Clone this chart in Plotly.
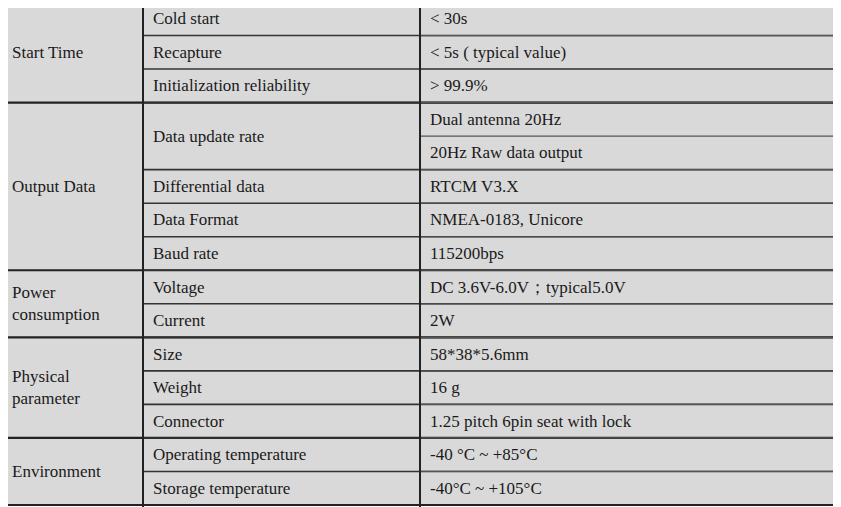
import plotly.graph_objects as go

groups = ["Start Time", "Output Data", "Power<br>consumption", "Physical<br>parameter", "Environment"]
group_spans = [3, 5, 2, 3, 2]  # in value rows
params = ["Cold start", "Recapture", "Initialization reliability", "Data update rate",
          "Differential data", "Data Format", "Baud rate", "Voltage", "Current",
          "Size", "Weight", "Connector", "Operating temperature", "Storage temperature"]
param_spans = [1, 1, 1, 2, 1, 1, 1, 1, 1, 1, 1, 1, 1, 1]
values = ["< 30s", "< 5s ( typical value)", "> 99.9%", "Dual antenna 20Hz",
          "20Hz Raw data output", "RTCM V3.X", "NMEA-0183, Unicore", "115200bps",
          "DC 3.6V-6.0V\uff1btypical5.0V", "2W", "58*38*5.6mm", "16 g",
          "1.25 pitch 6pin seat with lock", "-40 °C ~ +85°C", "-40°C ~ +105°C"]

X0, X1, X2, X3 = 2, 143, 420, 838
N = len(values)
font = dict(family="Liberation Serif", size=17, color="#1a1a1a")
shapes, ann = [], []
shapes.append(dict(type="rect", x0=X0, x1=X3, y0=0, y1=N, fillcolor="#d9d9d9", line_width=0, layer="below"))

def hline(y, xa, xb, w, c):
    shapes.append(dict(type="line", x0=xa, x1=xb, y0=y, y1=y, line=dict(color=c, width=w)))

r = 0
for g, s in zip(groups, group_spans):
    ann.append(dict(x=X0 + 8, y=r + s / 2, text=g, xanchor="left", yanchor="middle", showarrow=False, font=font, align="left"))
    hline(r, X0, X3, 2.2, "#222")
    r += s
hline(N, X0, X3, 2.2, "#222")

r = 0
for p, s in zip(params, param_spans):
    ann.append(dict(x=X1 + 8, y=r + s / 2, text=p, xanchor="left", yanchor="middle", showarrow=False, font=font))
    if r != 0:
        hline(r, X1, X3, 1.6, "#333")
    r += s

for i, v in enumerate(values):
    ann.append(dict(x=X2 + 8, y=i + 0.5, text=v, xanchor="left", yanchor="middle", showarrow=False, font=font))
    hline(i, X2, X3, 1.2, "#555")

for x in (X0, X1, X2, X3):
    shapes.append(dict(type="line", x0=x, x1=x, y0=-0.1, y1=N + 0.1, line=dict(color="#222", width=2)))

OFF = 8  # page body margin in px
rowpx = 503 / N
fig = go.Figure()
fig.update_layout(width=841, height=507, margin=dict(l=0, r=0, t=0, b=0),
                  paper_bgcolor="white", plot_bgcolor="white",
                  shapes=shapes, annotations=ann, showlegend=False,
                  xaxis=dict(range=[OFF, 841 + OFF], visible=False, fixedrange=True),
                  yaxis=dict(range=[(507 + OFF - 2) / rowpx, (OFF - 2) / rowpx], visible=False, fixedrange=True))
fig.write_html("out.html")
